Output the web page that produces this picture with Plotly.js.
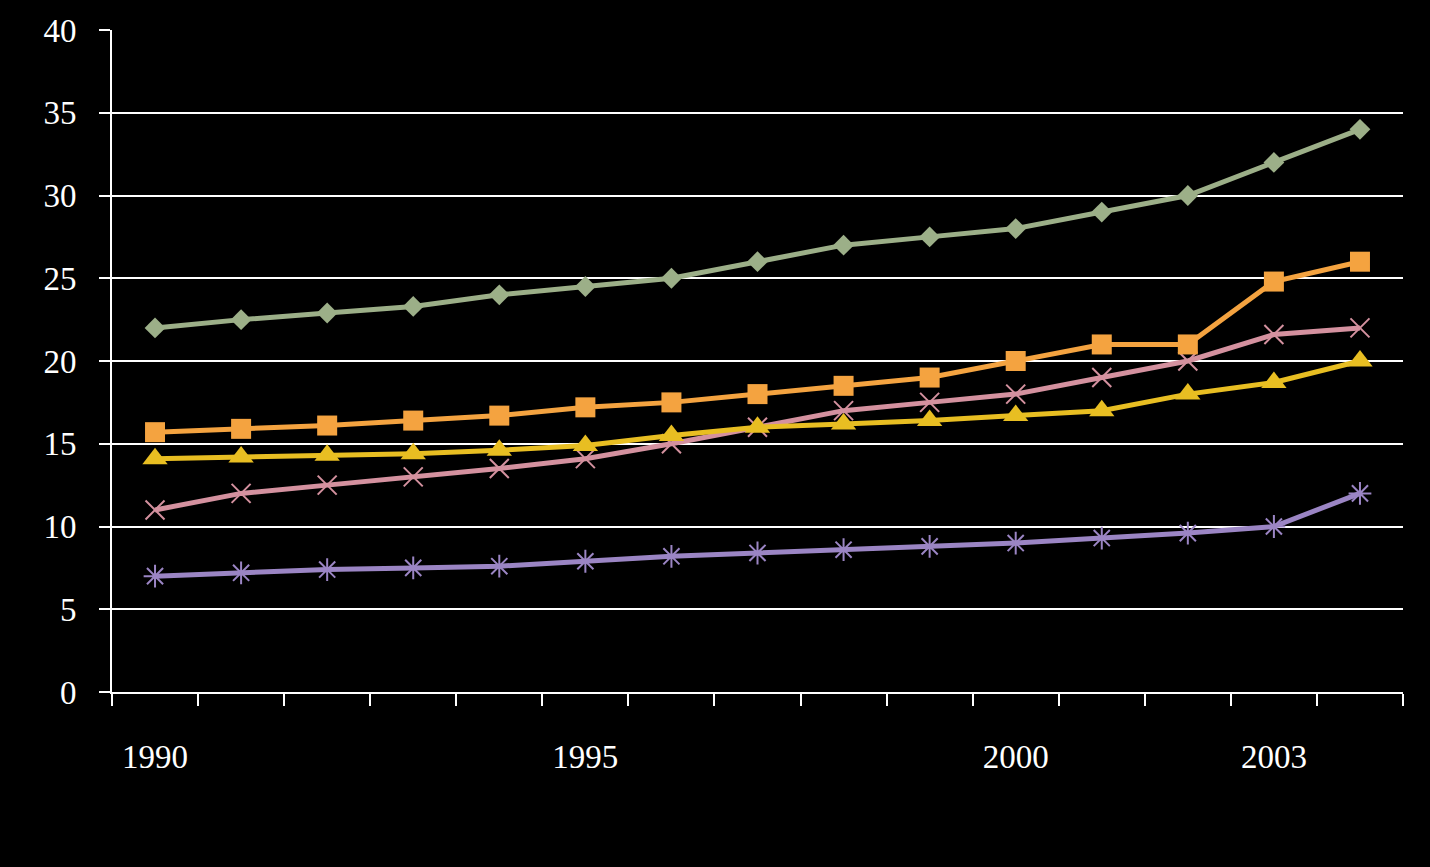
<!DOCTYPE html>
<html>
<head>
<meta charset="utf-8">
<script src="https://cdn.plot.ly/plotly-3.0.1.min.js"></script>
<style>html,body{margin:0;padding:0;background:#000;}#chart{width:1430px;height:867px;}</style>
</head>
<body>
<div id="chart"></div>
<script>
const years = [1990,1991,1992,1993,1994,1995,1996,1997,1998,1999,2000,2001,2002,2003,2004];
const tickYears = [1990,1995,2000,2003];
const tickLabels = ['1990','1995','2000','2003'];
const greenSeries  = [22,22.5,22.9,23.3,24,24.5,25,26,27,27.5,28,29,30,32,34];
const orangeSeries = [15.7,15.9,16.1,16.4,16.7,17.2,17.5,18,18.5,19,20,21,21,24.8,26];
const yellowSeries = [14.1,14.2,14.3,14.4,14.6,14.9,15.5,16,16.2,16.4,16.7,17,18,18.7,20];
const pinkSeries   = [11,12,12.5,13,13.5,14.1,15,16,17,17.5,18,19,20,21.6,22];
const purpleSeries = [7,7.2,7.4,7.5,7.6,7.9,8.2,8.4,8.6,8.8,9,9.3,9.6,10,12];

function tr(y, color, symbol, size, lw) {
  return {x: years, y: y, type: 'scatter', mode: 'lines+markers',
    line: {color: color, width: 5},
    marker: {color: color, symbol: symbol, size: size, line: {color: color, width: lw}},
    hoverinfo: 'x+y'};
}
const data = [
  tr(purpleSeries, '#9B85C4', 'asterisk-open', 19, 2),
  tr(pinkSeries, '#D4919F', 'x-thin-open', 19, 2),
  tr(yellowSeries, '#E8BE22', 'triangle-up', 22, 0),
  tr(orangeSeries, '#F4A340', 'square', 20, 0),
  tr(greenSeries, '#9CAF88', 'diamond', 16, 0)
];
const font = {family: 'Liberation Serif, serif', size: 33, color: '#ffffff'};
const layout = {
  width: 1430, height: 867,
  paper_bgcolor: '#000', plot_bgcolor: '#000',
  margin: {l: 112, r: 27, t: 30, b: 175},
  showlegend: false,
  font: font,
  xaxis: {
    range: [1989.5, 2004.5], tickmode: 'array', tickvals: tickYears, ticktext: tickLabels,
    ticks: '', showgrid: false, zeroline: false,
    showline: true, linecolor: '#fff', linewidth: 2,
    ticklabelstandoff: 34, tickfont: font,
    minor: {tick0: 1989.5, dtick: 1, ticks: 'outside', ticklen: 12, tickwidth: 2, tickcolor: '#fff', showgrid: false}
  },
  yaxis: {
    range: [0, 40], dtick: 5, tick0: 0,
    ticks: 'outside', ticklen: 11, tickwidth: 2, tickcolor: '#fff',
    showgrid: true, gridcolor: '#fff', gridwidth: 2, zeroline: false,
    showline: true, linecolor: '#fff', linewidth: 2,
    ticklabelstandoff: 16, tickfont: font
  }
};
Plotly.newPlot('chart', data, layout, {displayModeBar: false, staticPlot: true});
</script>
</body>
</html>
